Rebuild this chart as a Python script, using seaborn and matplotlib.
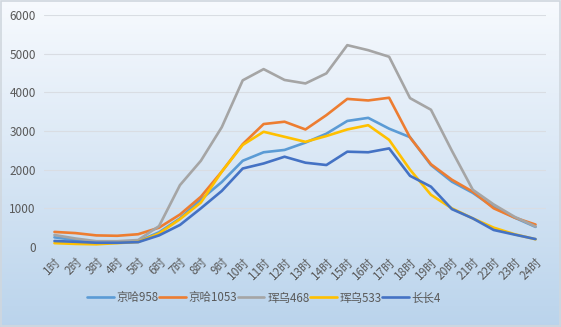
import numpy as np
import pandas as pd
import matplotlib
matplotlib.use("Agg")
import matplotlib.pyplot as plt
import seaborn as sns
from matplotlib.lines import Line2D

hours = ["1时", "2时", "3时", "4时", "5时", "6时", "7时", "8时", "9时", "10时", "11时", "12时",
         "13时", "14时", "15时", "16时", "17时", "18时", "19时", "20时", "21时", "22时", "23时", "24时"]
jh958 = [250, 180, 130, 140, 150, 380, 740, 1230, 1680, 2230, 2450, 2510,
         2700, 2930, 3260, 3340, 3060, 2840, 2120, 1690, 1400, 1030, 760, 520]
jh1053 = [390, 360, 300, 290, 330, 500, 840, 1300, 1950, 2660, 3180, 3240,
          3040, 3410, 3830, 3790, 3860, 2830, 2140, 1740, 1430, 1000, 760, 580]
hw468 = [310, 220, 150, 150, 180, 540, 1600, 2230, 3100, 4310, 4600, 4320,
         4230, 4490, 5220, 5090, 4920, 3850, 3550, 2490, 1480, 1100, 780, 530]
hw533 = [100, 80, 70, 100, 130, 350, 720, 1150, 1950, 2640, 2980, 2850,
         2720, 2870, 3040, 3150, 2770, 2000, 1350, 1000, 740, 500, 330, 200]
cc4 = [155, 135, 110, 110, 125, 300, 570, 1000, 1450, 2030, 2160, 2335,
       2180, 2120, 2465, 2450, 2550, 1840, 1560, 980, 740, 440, 320, 205]

series_names = ["京哈958", "京哈1053", "珲乌468", "珲乌533", "长长4"]
series_vals = [jh958, jh1053, hw468, hw533, cc4]
colors = ["#5B9BD5", "#ED7D31", "#A5A5A5", "#FFC000", "#4472C4"]

rows = []
for name, vals in zip(series_names, series_vals):
    for i, (h, v) in enumerate(zip(hours, vals)):
        rows.append({"idx": i, "hour": h, "value": v, "series": name})
df = pd.DataFrame(rows)

sns.set_style("white")
plt.rcParams["font.family"] = ["Noto Sans CJK SC", "DejaVu Sans"]

fig = plt.figure(figsize=(5.61, 3.27), dpi=100)

# gradient background
bg = fig.add_axes([0, 0, 1, 1], zorder=-10)
top = np.array([0.97, 0.98, 0.995])
bot = np.array([0.73, 0.83, 0.925])
t = np.linspace(0, 1, 256)[:, None]
grad = top[None, :] * (1 - t) + bot[None, :] * t
img = np.repeat(grad[:, None, :], 2, axis=1)
bg.imshow(img, aspect="auto", extent=[0, 1, 0, 1], origin="upper")
bg.set_xlim(0, 1); bg.set_ylim(0, 1)
bg.axis("off")
bg.add_patch(plt.Rectangle((0.001, 0.002), 0.997, 0.995, fill=False,
                           edgecolor="#d0d7de", lw=1.2, transform=bg.transAxes))

ax = fig.add_axes([44/561, 1-247/327, (546-44)/561, (247-15)/327])
ax.patch.set_alpha(0)

sns.lineplot(data=df, x="idx", y="value", hue="series", hue_order=series_names,
             palette=colors, linewidth=1.9, ax=ax, legend=False, sort=False)

ax.set_xlim(-0.5, 23.5)
ax.set_ylim(0, 6000)
ax.set_yticks(range(0, 6001, 1000))
ax.set_xticks(range(len(hours)))
ax.set_xticklabels(hours, rotation=45, ha="right", va="top", rotation_mode="anchor")
ax.tick_params(axis="both", labelsize=8.5, colors="#595959", length=0)
ax.tick_params(axis="y", pad=6)
ax.tick_params(axis="x", pad=6)
ax.yaxis.grid(True, color="#d9dde3", lw=0.8)
ax.xaxis.grid(False)
for s in ax.spines.values():
    s.set_visible(False)
ax.axhline(0, color="#d9dde3", lw=0.8, zorder=0)
ax.set_xlabel("")
ax.set_ylabel("")

handles = [Line2D([0], [0], color=c, lw=1.9) for c in colors]
fig.legend(handles, series_names, loc="center", bbox_to_anchor=(264/561, 1-298/327),
           ncol=5, frameon=False, fontsize=8.3, handlelength=2.3, handletextpad=0.25,
           columnspacing=0.05, labelcolor="#595959")

fig.savefig("out.png", dpi=100)
